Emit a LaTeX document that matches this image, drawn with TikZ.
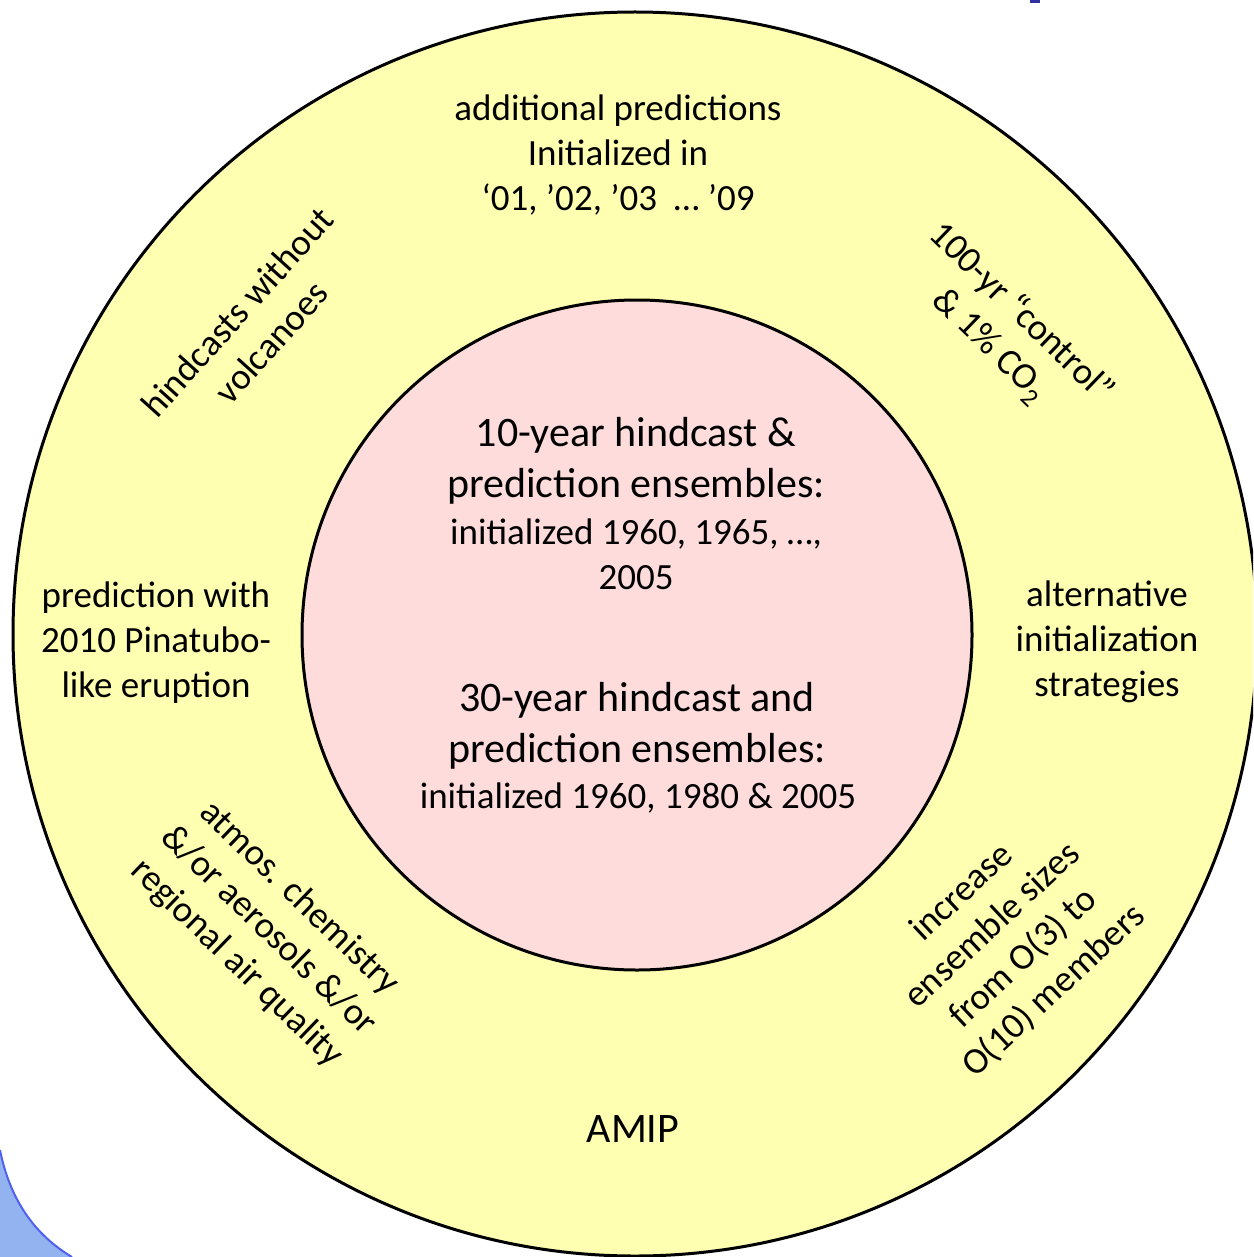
\documentclass[tikz,border=0pt]{standalone}
\usepackage{fontspec}
\setmainfont{Carlito}
\definecolor{ringyellow}{RGB}{255,255,178}
\definecolor{corepink}{RGB}{255,220,220}
\definecolor{bgblue}{RGB}{146,178,240}
\definecolor{bgedge}{RGB}{80,96,240}
\definecolor{titleblue}{RGB}{48,48,160}
\tikzset{
  smalltxt/.style={font=\fontsize{37}{45}\selectfont, align=center, inner sep=0pt, text=black},
  bigtxt/.style={font=\fontsize{42}{51}\selectfont, align=center, inner sep=0pt, text=black},
  ring/.style={circle, draw=black, line width=3pt, inner sep=0pt}
}
\begin{document}
\begin{tikzpicture}[x=1pt,y=-1pt]
\useasboundingbox (0,0) rectangle (1253,1257);
\clip (0,0) rectangle (1253,1257);
% background fragments
\fill[white] (0,0) rectangle (1253,1257);
\fill[bgblue] (0,1150) .. controls (10,1200) and (35,1235) .. (72,1257) -- (0,1257) -- cycle;
\draw[bgedge, line width=2pt] (0,1150) .. controls (10,1200) and (35,1235) .. (72,1257);
\fill[titleblue] (1030,0) rectangle (1040,3);
% circles
\node[ring, fill=ringyellow, minimum size=1244pt] (outer) at (635,634) {};
\node[ring, fill=corepink, minimum size=670pt] (inner) at (637,635) {};
% inner texts
\node[bigtxt] (core10a) at (636,461) {10-year hindcast \&\\prediction ensembles:};
\node[smalltxt] (core10b) at (636,554) {initialized 1960, 1965, …,\\2005};
\node[bigtxt] (core30a) at (637,726) {30-year hindcast and\\prediction ensembles:};
\node[smalltxt] (core30b) at (638,798) {initialized 1960, 1980 \& 2005};
% outer texts
\node[smalltxt] (top) at (618,155) {additional predictions\\Initialized in\\‘01, ’02, ’03\ \ … ’09};
\node[smalltxt] (left) at (156,643) {prediction with\\2010 Pinatubo-\\like eruption};
\node[smalltxt] (right) at (1107,642) {alternative\\initialization\\strategies};
\node[bigtxt] (amip) at (633,1129) {AMIP};
\node[smalltxt, rotate=48] (volc) at (254,327) {hindcasts without\\volcanoes};
\node[smalltxt, rotate=-44] (ctrl) at (1005,330) {100-yr “control”\\\& 1\% CO\textsubscript{2}};
\node[smalltxt, rotate=-44] (chem) at (268,931) {atmos. chemistry\\\&/or aerosols \&/or\\regional air quality};
\node[smalltxt, rotate=43] (ens) at (1008,942) {increase\\ensemble sizes\\from O(3) to\\O(10) members};
\end{tikzpicture}
\end{document}
